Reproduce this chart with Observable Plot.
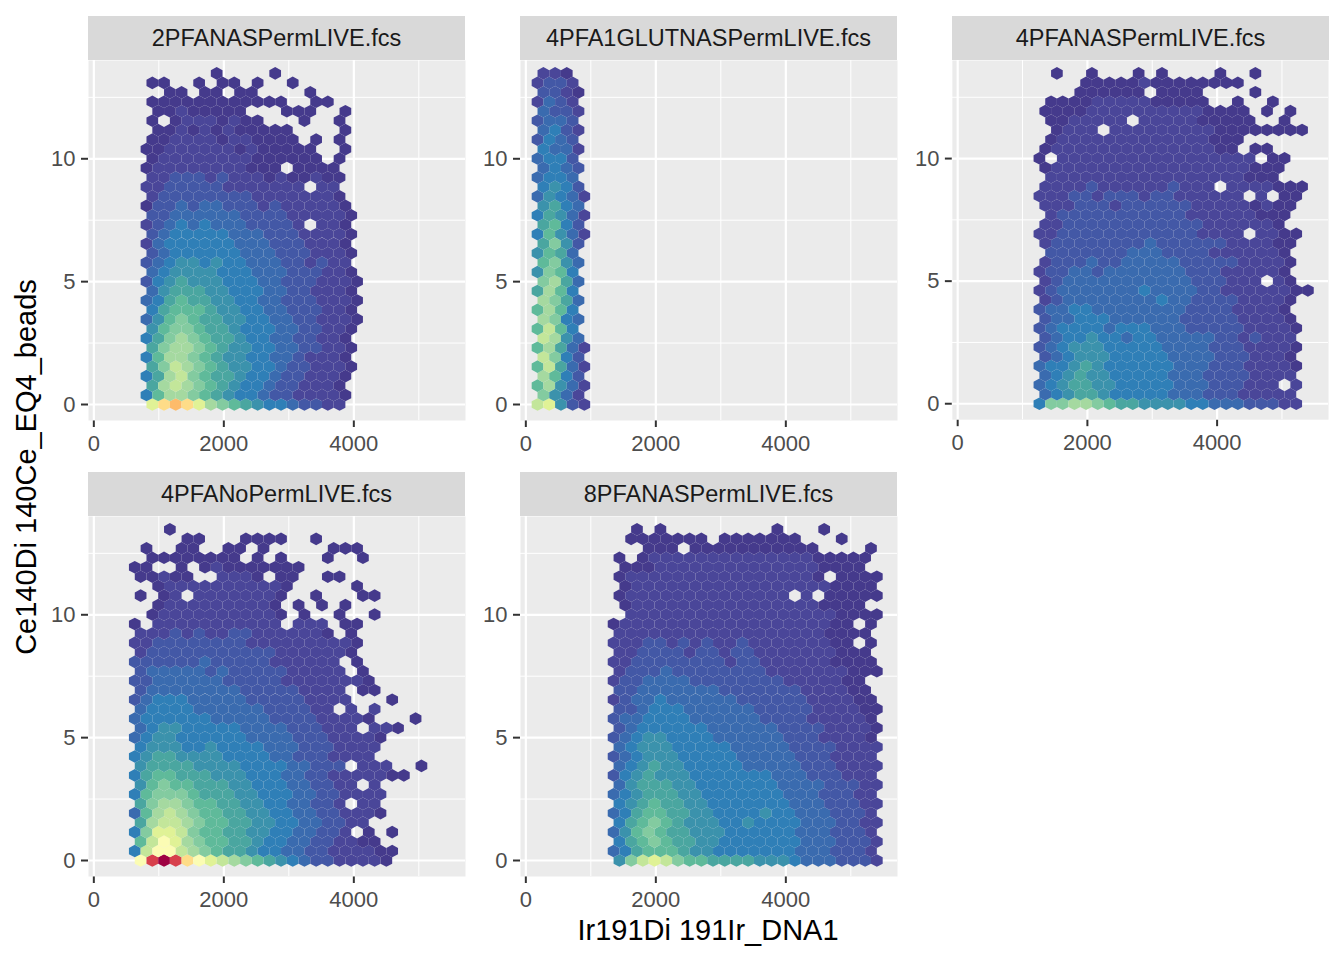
<!DOCTYPE html>
<html>
<head>
<meta charset="utf-8">
<script src="https://cdn.jsdelivr.net/npm/d3@7"></script>
<script src="https://cdn.jsdelivr.net/npm/@observablehq/plot@0.6"></script>
<style>
  body { margin: 0; background: #ffffff; font-family: "Liberation Sans", Arial, sans-serif; }
  #chart { position: relative; width: 1344px; height: 960px; overflow: hidden; background: #fff; }
  .strip { position: absolute; background: #D9D9D9; color: #1A1A1A; font-size: 23.5px; text-align: center; white-space: nowrap; }
  .panel { position: absolute; }
  .panel g[aria-label$="axis tick"] path { stroke: #333333; stroke-width: 2px; }
  .title { position: absolute; color: #000; font-size: 29px; white-space: nowrap; }
</style>
</head>
<body>
<div id="chart"></div>
<script>
// ---------- data: hexbin cells ----------
// each row string = "startColumn:levels", row index r = position in array (r=0 at y=0)
// level chars: 1..9, a=10 ... h=17 ; "." = empty bin
const panelNames = ["2PFANASPermLIVE.fcs", "4PFA1GLUTNASPermLIVE.fcs", "4PFANASPermLIVE.fcs", "4PFANoPermLIVE.fcs", "8PFANASPermLIVE.fcs"];

const rows2PFA = [
  "5:cefeca98765543322", "4:58aa98765543322221", "5:7aba9876554332221", "4:57ab98776554332221",
  "5:79ba98766554332221", "4:58aa98766554432221", "5:79aa98766554433221", "4:579a98776554433221",
  "5:689987765554433221", "4:4689877665544332221", "5:578887665544333221", "4:4578776655443332221",
  "5:467776655544332221", "4:3567666555443332221", "5:456666555444333221", "4:345665655444332322",
  "5:345555554443332221", "4:245555554443332221", "5:345555544433322221", "4:23454544433332.221",
  "5:334444443333222221", "4:133434433323222221", "5:23333333322222221", "4:22333332222222.22",
  "5:22333232221211211", "4:122222222111.1111", "5:122222222111111.1", "4:112222221211111..1",
  "5:1122221221111.1.1", "5:112121211111....1", "5:1.12221211...1..1", "5:11211111...111..1",
  "5:111111111111..11", "6:11.11.11....1", "5:11..1.11.1..1", "10:1....1"
];

const rows4PFA1GLUT = [
  "1:bc632", "1:9642", "1:8a642", "1:a853", "1:8b742", "1:b953", "1:8a742", "1:ba64",
  "1:8b85", "1:a954", "1:8a85", "1:a974", "1:7a85", "1:9a74", "1:6985", "1:8964",
  "1:6874", "1:7963", "1:58642", "1:7853", "1:57642", "1:6754", "1:46542", "1:5653",
  "1:4554", "1:4543", "1:4553", "1:5442", "1:3543", "1:4532", "1:3443", "1:4332",
  "1:2432", "1:3321", "1:2332", "1:221"
];

const rows4PFANAS = [
  "7:599aa987766665544433322", "7:4567765555544433322222", "7:456776655555444333222.2", "7:4567665555544433332222",
  "7:45567655555544433322221", "7:3456665555544443332221", "7:34566655555444433322221", "7:3455655455444443323222",
  "7:34555545554443333322221", "7:3445554444443333322221", "7:3445544444444333322221", "7:2344444444544333322221",
  "7:234444444544443322222211", "7:2344444444444333222.21", "7:2334434444444333222221", "7:2333433444443333322221",
  "8:333333344433332222221", "7:2333333334333333222211", "7:223333333333332222.2211", "7:223333333333332222221",
  "8:233333333333222222111", "7:2223332333333222221211", "7:222332333233222222.2.11", "7:222232222223222.2222111",
  "8:22222222222222222111", "7:122222222222222222111", "7:1.22222222222222222.11", "7:12222222222222211.11",
  "8:12222222222222111", "8:1222.22222222211111111", "8:1122222.2222211111..1", "7:111122222222221111.1.1",
  "8:11112222211111..1..1", "10:111111.1111....1", "11:11111211111111", "8:1..1...1.1....1..1"
];

const rows4PFANoPerm = [
  "4:dghgedcba9876543322221", "3:5bddba98776554433222211", "4:8bdca9887765544332211", "3:59ccb98877665544332.1.1",
  "4:7abba988776655443322", "3:48aba98877665544332221", "4:79aa98877665544332.22", "3:5899987776655544332222",
  "4:6898877766555443322.2", "3:578877766655544332222211", "4:677776666555544333.222..1", "3:567766665555443332222",
  "4:566655655554443332222", "3:4566555555444433322221", "4:4566555554444333222.221", "3:455555544444333322221...1",
  "4:45555444444333322.2.2", "3:3455544444333332222...1", "4:344444444333332222.11", "3:334444443333322222221",
  "4:344444343333322222.1", "3:333333433333222222.1", "4:2333333333332222221", "3:22333333332222222221",
  "4:22232322332222221.1", "3:1.22222222222.222.11", "5:122222222221.1..1..1", "5:12222222221.1.1.1",
  "4:1.12.22222221..1...11", "5:122222222221.....1", "4:11211..2221.11..11", "3:11..1.121111111",
  "5:11111111.1.1...1..1", "4:1..11..11.1.....111", "8:11...1111..1", "6:1"
];

const rows8PFA = [
  "8:69bcb988777766654443332", "7:45788876655555554443332", "8:57898776655555554443332", "7:46898776665555554443332",
  "8:57898766655655554443322", "7:45788776655556554443332", "8:56787766555555544433322", "7:45677766555555544433322",
  "8:46777665555555444433322", "7:35676665555555444333222", "8:45676655555444443332222", "7:34566655555444443332222",
  "8:45666555554444433332222", "7:34566555544444433322221", "8:34555555444444333322221", "7:34455554444443333222221",
  "8:33455544444433333222211", "7:23445444444333333222211", "8:3344444443333333222211", "7:2334444333333332222211",
  "8:23334333333332222222111", "7:22333333332332222221111", "8:2233332332332222222111", "7:222332323223222222211.1",
  "8:2222222222222222221111", "7:122222222222222222211.1", "9:2222222222222222221111", "8:122222222222222221111",
  "8:122222222222222.2.11111", "8:1222222222222222221111", "8:122222222222222221.1111", "8:111222222222222221111",
  "8:1.12222222222222211111", "10:111.11111111111....1", "9:1111111.1111111...1", "9:1.1.........1...1"
];

const panelRows = [rows2PFA, rows4PFA1GLUT, rows4PFANAS, rows4PFANoPerm, rows8PFA];

// axes
const xTicks = [0, 2000, 4000];
const xMinorTicks = [1000, 3000, 5000];
const yTicks = [0, 5, 10];
const yMinorTicks = [2.5, 7.5, 12.5];
const xDomain = [-82, 5718];
const yDomain = [-0.651, 14.0];
const xTitle = "Ir191Di 191Ir_DNA1";
const yTitle = "Ce140Di 140Ce_EQ4_beads";

// hexbin grid geometry (data units)
const binWidthX = 180;
const rowStepY = 0.385;

// fill palette (spectral, low = purple, high = dark red)
const levels = d3.range(1, 18);
const palette = ["#453a8c", "#4a4699", "#4358a6", "#3a6baf", "#2f7fb7", "#3b92ac", "#4aa6a0", "#5fba9a",
                 "#83cba0", "#a5d9a0", "#c3e69a", "#e0f296", "#fbfcb4", "#fedc88", "#fdbb6a", "#d7404c", "#9e0142"];

// ---------- layout ----------
const PW = 377, PH = 360, ML = 64, MR = 16, MT = 4, MB = 46, STRIP = 44;
const panelPos = [[88, 60], [520, 60], [952, 60], [88, 516], [520, 516]];

function cellsOf(rows) {
  const out = [];
  rows.forEach((s, r) => {
    const [startStr, lv] = s.split(":");
    const start = +startStr;
    for (let k = 0; k < lv.length; k++) {
      const ch = lv[k];
      if (ch === "." || ch === " ") continue;
      const col = start + k;
      out.push({x: (col + (r % 2 ? 0.5 : 0)) * binWidthX, y: r * rowStepY, level: parseInt(ch, 36)});
    }
  });
  return out;
}

const hw = (binWidthX / 2) / (xDomain[1] - xDomain[0]) * PW;
const hh = (rowStepY * PH / (yDomain[1] - yDomain[0])) / 1.5;
const hexSymbol = {
  draw(ctx) {
    const w = hw, h = hh;
    ctx.moveTo(0, -h);
    ctx.lineTo(w, -h / 2);
    ctx.lineTo(w, h / 2);
    ctx.lineTo(0, h);
    ctx.lineTo(-w, h / 2);
    ctx.lineTo(-w, -h / 2);
    ctx.closePath();
  }
};

const chart = document.getElementById("chart");

panelNames.forEach((name, i) => {
  const [px, py] = panelPos[i];
  const strip = document.createElement("div");
  strip.className = "strip";
  strip.style.left = px + "px";
  strip.style.top = (py - STRIP) + "px";
  strip.style.width = PW + "px";
  strip.style.height = STRIP + "px";
  strip.style.lineHeight = STRIP + "px";
  strip.textContent = name;
  chart.appendChild(strip);

  const plot = Plot.plot({
    width: PW + ML + MR,
    height: PH + MT + MB,
    marginLeft: ML, marginRight: MR, marginTop: MT, marginBottom: MB,
    style: {fontFamily: "Liberation Sans, Arial, sans-serif", fontSize: "22px", color: "#4D4D4D", background: "transparent", overflow: "visible"},
    x: {domain: xDomain, ticks: xTicks, tickSize: 7, tickPadding: 8, tickFormat: d => String(d), label: null},
    y: {domain: yDomain, ticks: yTicks, tickSize: 7, tickPadding: 6, tickFormat: d => String(d), label: null},
    color: {type: "ordinal", domain: levels, range: palette},
    marks: [
      Plot.frame({fill: "#EBEBEB", stroke: "none"}),
      Plot.ruleX(xMinorTicks, {stroke: "#ffffff", strokeWidth: 1}),
      Plot.ruleY(yMinorTicks, {stroke: "#ffffff", strokeWidth: 1}),
      Plot.ruleX(xTicks, {stroke: "#ffffff", strokeWidth: 2.2}),
      Plot.ruleY(yTicks, {stroke: "#ffffff", strokeWidth: 2.2}),
      Plot.dot(cellsOf(panelRows[i]), {x: "x", y: "y", fill: "level", symbol: hexSymbol, r: 6, stroke: "none"})
    ]
  });
  const wrap = document.createElement("div");
  wrap.className = "panel";
  wrap.style.left = (px - ML) + "px";
  wrap.style.top = (py - MT) + "px";
  wrap.appendChild(plot);
  chart.appendChild(wrap);
});

const xt = document.createElement("div");
xt.className = "title";
xt.textContent = xTitle;
xt.style.left = "708px";
xt.style.top = "930px";
xt.style.transform = "translate(-50%, -50%)";
chart.appendChild(xt);

const yt = document.createElement("div");
yt.className = "title";
yt.textContent = yTitle;
yt.style.left = "26px";
yt.style.top = "467px";
yt.style.transform = "translate(-50%, -50%) rotate(-90deg)";
chart.appendChild(yt);
</script>
</body>
</html>
